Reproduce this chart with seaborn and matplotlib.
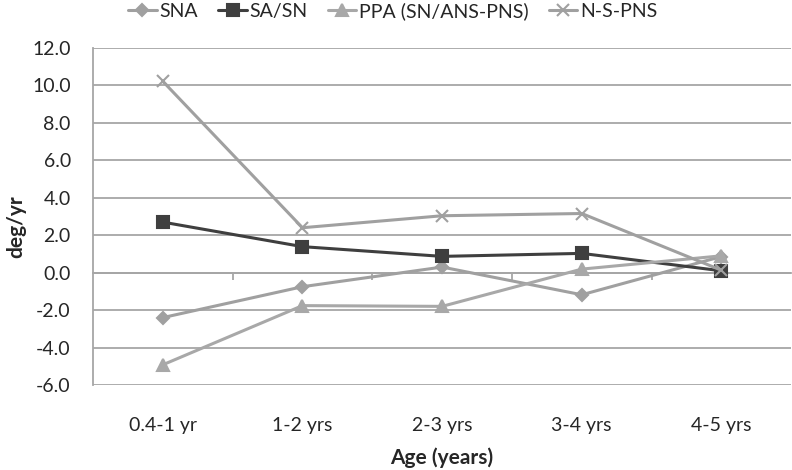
import matplotlib
matplotlib.use("Agg")
import matplotlib.pyplot as plt
import seaborn as sns
import pandas as pd

categories = ["0.4-1 yr", "1-2 yrs", "2-3 yrs", "3-4 yrs", "4-5 yrs"]
sna = [-2.4, -0.75, 0.3, -1.18, 0.86]
sa_sn = [2.7, 1.39, 0.87, 1.03, 0.1]
ppa = [-4.92, -1.76, -1.8, 0.19, 0.9]
n_s_pns = [10.22, 2.4, 3.04, 3.16, 0.13]

series_names = ["SNA", "SA/SN", "PPA (SN/ANS-PNS)", "N-S-PNS"]
series_vals = [sna, sa_sn, ppa, n_s_pns]

sns.set_style("white")
plt.rcParams['font.family'] = ['Lato', 'DejaVu Sans']

fig = plt.figure(figsize=(7.92, 4.70), dpi=100)
ax = fig.add_axes([93/792, 1-385/470, 1-93/792-0.001, (385-48)/470])

palette = {"SNA": "#a0a0a0", "SA/SN": "#3f3f3f", "PPA (SN/ANS-PNS)": "#a8a8a8", "N-S-PNS": "#a0a0a0"}
markers = {"SNA": "D", "SA/SN": "s", "PPA (SN/ANS-PNS)": "^", "N-S-PNS": "x"}
sizes_m = {"SNA": 6, "SA/SN": 8, "PPA (SN/ANS-PNS)": 8, "N-S-PNS": 8}

for name, vals in zip(series_names, series_vals):
    d = pd.DataFrame({"Age": categories, "value": vals})
    sns.lineplot(data=d, x="Age", y="value", color=palette[name], marker=markers[name],
                 markersize=sizes_m[name], markeredgecolor=palette[name], markeredgewidth=1.5,
                 linewidth=2.2, sort=False, label=name, ax=ax)

ax.set_xlim(-0.5, 4.5)
ax.set_ylim(-6, 12)
yt = [-6, -4, -2, 0, 2, 4, 6, 8, 10, 12]
ax.set_yticks(yt)
ax.set_yticklabels([f"{v:.1f}" for v in yt])
ax.yaxis.grid(True, color="#a6a6a6", linewidth=1.3)
ax.set_axisbelow(True)
for s in ["top", "right", "bottom"]:
    ax.spines[s].set_visible(False)
ax.spines["left"].set_color("#a6a6a6")
ax.spines["left"].set_linewidth(1.3)
ax.tick_params(axis="y", length=5, width=1.3, color="#a6a6a6", labelsize=14, pad=11)
ax.tick_params(axis="x", length=0, labelsize=14, pad=23)
ax.set_xticks(range(len(categories)))
ax.set_xticklabels(categories)

sec = ax.secondary_xaxis(6/18)
sec.set_xticks([0.5, 1.5, 2.5, 3.5])
sec.set_xticklabels([])
sec.tick_params(axis="x", direction="out", length=5, width=1.3, color="#a6a6a6")
sec.spines["bottom"].set_color("#a6a6a6")
sec.spines["bottom"].set_linewidth(1.3)

ax.set_xlabel("Age (years)", fontsize=15, fontweight="bold")
ax.xaxis.set_label_coords(0.5, -(464-385)/(385-48))
ax.xaxis.label.set_va("baseline")
ax.set_ylabel("deg/yr", fontsize=15, fontweight="bold")
ax.yaxis.set_label_coords(-(93-26)/(792-93), 0.47)

handles, labels = ax.get_legend_handles_labels()
ax.get_legend().remove()
fig.legend(handles, labels, loc="center", bbox_to_anchor=(393/792, 1-11/470), ncol=4,
           frameon=False, fontsize=14, handlelength=1.45, handletextpad=0.15,
           columnspacing=1.05, borderaxespad=0)

fig.savefig("out.png", dpi=100)
